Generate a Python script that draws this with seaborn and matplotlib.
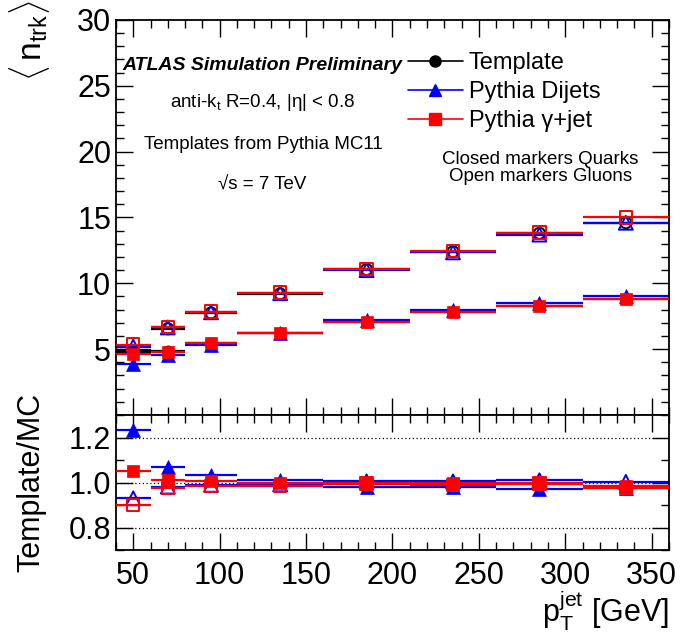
import numpy as np
import pandas as pd
import matplotlib
matplotlib.use("Agg")
import matplotlib.pyplot as plt
from matplotlib.lines import Line2D
from matplotlib.ticker import MultipleLocator, FixedLocator
import seaborn as sns

# ---- data ----
pt_centers = [50, 70, 95, 135, 185, 235, 285, 335]
pt_halfwidth = [10, 10, 15, 25, 25, 25, 25, 25]

template_quark = [4.80, 4.85, 5.50, 6.25, 7.10, 7.85, 8.30, 8.80]
template_gluon = [4.90, 6.55, 7.75, 9.20, 11.05, 12.40, 13.80, 14.60]
dijet_quark = [3.90, 4.55, 5.35, 6.20, 7.20, 8.00, 8.50, 9.00]
dijet_gluon = [5.20, 6.65, 7.80, 9.25, 11.00, 12.35, 13.70, 14.60]
gamma_quark = [4.65, 4.80, 5.50, 6.25, 7.10, 7.85, 8.30, 8.80]
gamma_gluon = [5.35, 6.70, 7.85, 9.30, 11.10, 12.45, 13.85, 15.00]

ratio_dijet_quark = [1.235, 1.070, 1.035, 1.010, 0.980, 0.980, 0.972, 0.975]
ratio_dijet_gluon = [0.930, 0.982, 0.990, 0.992, 1.005, 1.005, 1.010, 1.003]
ratio_gamma_quark = [1.050, 1.010, 1.008, 1.000, 1.000, 1.000, 1.000, 0.985]
ratio_gamma_gluon = [0.900, 0.976, 0.984, 0.985, 0.995, 0.990, 0.995, 0.975]

legend_labels = ["Template", "Pythia Dijets", "Pythia \u03b3+jet"]

# ---- style ----
sns.set_style("ticks")
plt.rcParams["font.family"] = ["Liberation Sans", "DejaVu Sans"]
plt.rcParams["mathtext.fontset"] = "custom"
plt.rcParams["mathtext.rm"] = "Liberation Sans"
plt.rcParams["mathtext.it"] = "Liberation Sans:italic"
plt.rcParams["mathtext.bf"] = "Liberation Sans:bold"
for k in ["text.color", "axes.labelcolor", "xtick.color", "ytick.color",
          "axes.edgecolor"]:
    plt.rcParams[k] = "black"

fig = plt.figure(figsize=(6.82, 6.36), dpi=100)
ax1 = fig.add_axes([0.170, 0.3475, 0.811, 0.6211])
ax2 = fig.add_axes([0.170, 0.135, 0.811, 0.2125], sharex=ax1)

BLACK, BLUE, RED = "black", "#0000ff", "#ff0000"
series = [
    (template_quark, template_gluon, BLACK, "o", 8, 1),
    (dijet_quark, dijet_gluon, BLUE, "^", 10, 2),
    (gamma_quark, gamma_gluon, RED, "s", 9, 3),
]

x = np.array(pt_centers, dtype=float)
xe = np.array(pt_halfwidth, dtype=float)

def draw(ax, yv, color, marker, ms, z, filled):
    ax.errorbar(x, yv, xerr=xe, fmt="none", ecolor=color, elinewidth=1.6,
                capsize=0, zorder=z)
    df = pd.DataFrame({"pt": x, "v": yv})
    if filled:
        sns.scatterplot(data=df, x="pt", y="v", marker=marker, s=ms ** 2,
                        color=color, edgecolor=color, linewidth=0.5,
                        ax=ax, zorder=z + 0.5, legend=False)
    else:
        ax.scatter(x, yv, marker=marker, s=ms ** 2, facecolors="none",
                   edgecolors=color, linewidths=1.4, zorder=z + 0.5)

for q, g, c, m, ms, z in series:
    draw(ax1, q, c, m, ms, z, True)
    draw(ax1, g, c, m, ms, z, False)

# ratio panel
for yv in [0.8, 1.0, 1.2]:
    ax2.axhline(yv, color="black", ls=(0, (1, 2)), lw=0.9, zorder=0.5)
draw(ax2, ratio_dijet_quark, BLUE, "^", 10, 2, True)
draw(ax2, ratio_dijet_gluon, BLUE, "^", 10, 2, False)
draw(ax2, ratio_gamma_quark, RED, "s", 9, 3, True)
draw(ax2, ratio_gamma_gluon, RED, "s", 9, 3, False)

# axes
ax1.set_xlim(40, 360)
ax1.set_ylim(0, 30)
ax2.set_ylim(0.7, 1.3)

for ax in (ax1, ax2):
    ax.xaxis.set_major_locator(MultipleLocator(50))
    ax.xaxis.set_minor_locator(MultipleLocator(10))
    ax.tick_params(which="both", direction="in", top=True, right=True,
                   width=1.0, colors="black")
    ax.tick_params(which="major", length=12)
    ax.tick_params(which="minor", length=6)
    for s in ax.spines.values():
        s.set_linewidth(1.3)
        s.set_color("black")
    ax.set_xlabel("")
    ax.set_ylabel("")

ax1.yaxis.set_major_locator(FixedLocator([5, 10, 15, 20, 25, 30]))
ax1.yaxis.set_minor_locator(MultipleLocator(1))
ax1.tick_params(axis="x", labelbottom=False)
ax1.tick_params(axis="y", labelsize=22)
ax1.set_yticklabels(["5", "10", "15", "20", "25", "30"])

ax2.yaxis.set_major_locator(FixedLocator([0.8, 1.0, 1.2]))
ax2.yaxis.set_minor_locator(MultipleLocator(0.1))
ax2.set_yticklabels(["0.8", "1.0", "1.2"])
ax2.tick_params(axis="y", labelsize=22)
ax2.tick_params(axis="x", labelsize=22, pad=8)

ax1.set_ylabel(r"$\langle\,\mathrm{n}_{\mathrm{trk}}\rangle$", fontsize=24, loc="top")
ax1.yaxis.set_label_coords(-0.115, 1.05)
ax2.set_ylabel("Template/MC", fontsize=22)
ax2.yaxis.set_label_coords(-0.125, 0.5)
ax2.set_xlabel(r"$\mathrm{p}_{\mathrm{T}}^{\mathrm{jet}}$ [GeV]", fontsize=22,
               loc="right", labelpad=-2)

# texts
ax1.text(0.264, 0.886, "ATLAS Simulation Preliminary", transform=ax1.transAxes,
         ha="center", va="center", fontsize=14, fontweight="bold", style="italic")
ax1.text(0.266, 0.792, "anti-k$_{\\mathrm{t}}$ R=0.4, |\u03b7| < 0.8",
         transform=ax1.transAxes, ha="center", va="center", fontsize=13.5)
ax1.text(0.266, 0.684, "Templates from Pythia MC11", transform=ax1.transAxes,
         ha="center", va="center", fontsize=13.5)
ax1.text(0.264, 0.582, "\u221as = 7 TeV", transform=ax1.transAxes,
         ha="center", va="center", fontsize=13.5)
ax1.text(0.767, 0.626, "Closed markers Quarks\nOpen markers Gluons",
         transform=ax1.transAxes, ha="center", va="center", fontsize=13.5,
         linespacing=1.0)

handles = [
    Line2D([], [], color=BLACK, marker="o", ms=8, lw=1.2),
    Line2D([], [], color=BLUE, marker="^", ms=9, lw=1.2),
    Line2D([], [], color=RED, marker="s", ms=8, lw=1.2),
]
leg = ax1.legend(handles, legend_labels, loc="upper left",
                 bbox_to_anchor=(0.503, 0.955), frameon=False, fontsize=17,
                 handlelength=2.3, handletextpad=0.25, labelspacing=0.3,
                 borderaxespad=0.2)

fig.savefig("out.png", dpi=100)
